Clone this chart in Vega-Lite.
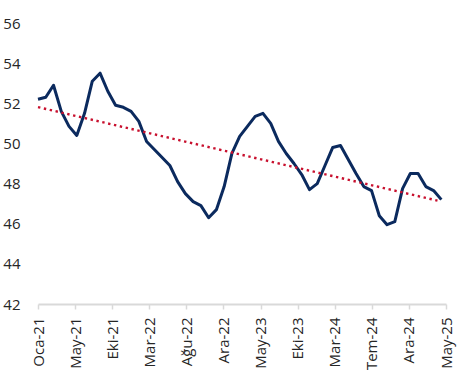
{
  "$schema": "https://vega.github.io/schema/vega-lite/v6.json",
  "width": 408,
  "height": 281,
  "autosize": "none",
  "padding": {"left": 38, "top": 23, "right": 23, "bottom": 72},
  "background": "white",
  "config": {"view": {"stroke": null}, "font": "Open Sans"},
  "datasets": {
    "pmi": [
      {"m": 0, "ay": "Oca-21", "v": 52.2}, {"m": 1, "ay": "Şub-21", "v": 52.3}, {"m": 2, "ay": "Mar-21", "v": 52.9},
      {"m": 3, "ay": "Nis-21", "v": 51.6}, {"m": 4, "ay": "May-21", "v": 50.85}, {"m": 5, "ay": "Haz-21", "v": 50.4},
      {"m": 6, "ay": "Tem-21", "v": 51.5}, {"m": 7, "ay": "Ağu-21", "v": 53.1}, {"m": 8, "ay": "Eyl-21", "v": 53.5},
      {"m": 9, "ay": "Eki-21", "v": 52.6}, {"m": 10, "ay": "Kas-21", "v": 51.9}, {"m": 11, "ay": "Ara-21", "v": 51.8},
      {"m": 12, "ay": "Oca-22", "v": 51.6}, {"m": 13, "ay": "Şub-22", "v": 51.1}, {"m": 14, "ay": "Mar-22", "v": 50.1},
      {"m": 15, "ay": "Nis-22", "v": 49.7}, {"m": 16, "ay": "May-22", "v": 49.3}, {"m": 17, "ay": "Haz-22", "v": 48.9},
      {"m": 18, "ay": "Tem-22", "v": 48.1}, {"m": 19, "ay": "Ağu-22", "v": 47.5}, {"m": 20, "ay": "Eyl-22", "v": 47.1},
      {"m": 21, "ay": "Eki-22", "v": 46.9}, {"m": 22, "ay": "Kas-22", "v": 46.3}, {"m": 23, "ay": "Ara-22", "v": 46.7},
      {"m": 24, "ay": "Oca-23", "v": 47.85}, {"m": 25, "ay": "Şub-23", "v": 49.5}, {"m": 26, "ay": "Mar-23", "v": 50.35},
      {"m": 27, "ay": "Nis-23", "v": 50.85}, {"m": 28, "ay": "May-23", "v": 51.35}, {"m": 29, "ay": "Haz-23", "v": 51.5},
      {"m": 30, "ay": "Tem-23", "v": 51.0}, {"m": 31, "ay": "Ağu-23", "v": 50.1}, {"m": 32, "ay": "Eyl-23", "v": 49.5},
      {"m": 33, "ay": "Eki-23", "v": 49.0}, {"m": 34, "ay": "Kas-23", "v": 48.45}, {"m": 35, "ay": "Ara-23", "v": 47.7},
      {"m": 36, "ay": "Oca-24", "v": 48.0}, {"m": 37, "ay": "Şub-24", "v": 48.9}, {"m": 38, "ay": "Mar-24", "v": 49.8},
      {"m": 39, "ay": "Nis-24", "v": 49.9}, {"m": 40, "ay": "May-24", "v": 49.2}, {"m": 41, "ay": "Haz-24", "v": 48.5},
      {"m": 42, "ay": "Tem-24", "v": 47.85}, {"m": 43, "ay": "Ağu-24", "v": 47.65}, {"m": 44, "ay": "Eyl-24", "v": 46.4},
      {"m": 45, "ay": "Eki-24", "v": 45.95}, {"m": 46, "ay": "Kas-24", "v": 46.1}, {"m": 47, "ay": "Ara-24", "v": 47.75},
      {"m": 48, "ay": "Oca-25", "v": 48.5}, {"m": 49, "ay": "Şub-25", "v": 48.5}, {"m": 50, "ay": "Mar-25", "v": 47.85},
      {"m": 51, "ay": "Nis-25", "v": 47.65}, {"m": 52, "ay": "May-25", "v": 47.2}
    ],
    "trend": [
      {"m": 0, "v": 51.81},
      {"m": 51.5, "v": 47.15}
    ]
  },
  "encoding": {
    "x": {
      "field": "m", "type": "quantitative",
      "scale": {"domain": [0, 52.6], "nice": false, "zero": false},
      "axis": {
        "values": [0, 4.7818, 9.5636, 14.3455, 19.1273, 23.9091, 28.6909, 33.4727, 38.2545, 43.0364, 47.8182, 52.6],
        "labelExpr": "['Oca-21','May-21','Eki-21','Mar-22','Ağu-22','Ara-22','May-23','Eki-23','Mar-24','Tem-24','Ara-24','May-25'][round(datum.value*11/52.6)]",
        "labelAngle": -90, "labelAlign": "right", "labelBaseline": "middle",
        "labelFlush": false, "labelOverlap": false,
        "labelFontSize": 15, "labelColor": "#262626", "labelPadding": 8,
        "tickSize": 5, "tickColor": "#D9D9D9", "tickWidth": 1.5,
        "domainColor": "#D9D9D9", "domainWidth": 2,
        "grid": false, "title": null
      }
    },
    "y": {
      "field": "v", "type": "quantitative",
      "scale": {"domain": [42, 56], "nice": false, "zero": false},
      "axis": {
        "values": [42, 44, 46, 48, 50, 52, 54, 56],
        "domain": false, "ticks": false, "grid": false,
        "labelFlush": false, "labelOverlap": false,
        "labelFontSize": 15, "labelColor": "#262626", "labelPadding": 18,
        "title": null
      }
    }
  },
  "layer": [
    {
      "data": {"name": "pmi"},
      "mark": {"type": "line", "color": "#0B2A5E", "strokeWidth": 3, "strokeJoin": "round"}
    },
    {
      "data": {"name": "trend"},
      "mark": {"type": "line", "color": "#C8102E", "strokeWidth": 2.4, "strokeDash": [2.4, 3.6]}
    }
  ]
}
